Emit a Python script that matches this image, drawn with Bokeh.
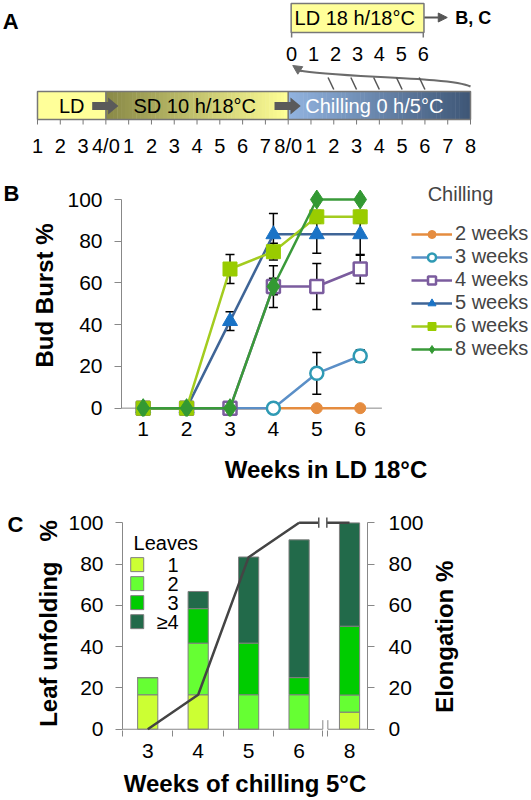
import numpy as np
from bokeh.plotting import figure
from bokeh.models import (Range1d, FixedTicker, ColumnDataSource, Whisker, TeeHead,
                          Legend, LegendItem, LinearAxis, Arrow, NormalHead)
from bokeh.embed import file_html
from bokeh.resources import INLINE
from bokeh.core.properties import value

FONT = "Liberation Sans"

# ---------------- Panel A data (experimental design) ----------------
timeline_labels = ["1", "2", "3", "4/0", "1", "2", "3", "4", "5", "6", "7", "8/0",
                   "1", "2", "3", "4", "5", "6", "7", "8"]
phase_labels = ["LD", "SD 10 h/18°C", "Chilling  0 h/5°C"]
phase_bounds = [0, 3, 11, 19]
ld18_weeks = [0, 1, 2, 3, 4, 5, 6]
ld18_label = "LD  18 h/18°C"
transfer_chill_weeks = [2, 3, 4, 5, 6]

# ---------------- Panel B data (bud burst) ----------------
weeks_in_ld = [1, 2, 3, 4, 5, 6]
chilling_groups = ["2 weeks", "3 weeks", "4 weeks", "5 weeks", "6 weeks", "8 weeks"]
bud_burst_2w = [0, 0, 0, 0, 0, 0]
bud_burst_3w = [0, 0, 0, 0, 16.7, 25]
bud_burst_4w = [0, 0, 0, 58.3, 58.3, 66.7]
bud_burst_5w = [0, 0, 41.7, 83.3, 83.3, 83.3]
bud_burst_6w = [0, 0, 66.7, 75, 91.7, 91.7]
bud_burst_8w = [0, 0, 0, 58.3, 100, 100]
err_2w = [0, 0, 0, 0, 0, 0]
err_3w = [0, 0, 0, 0, 10, 3]
err_4w = [0, 0, 0, 4, 11, 7]
err_5w = [0, 0, 4.5, 10, 9, 10]
err_6w = [0, 0, 7, 4, 3, 3]
err_8w = [0, 0, 0, 10, 0, 0]

# ---------------- Panel C data (leaf unfolding / elongation) ----------------
chill_weeks = ["3", "4", "5", "6", "8"]
leaves_1 = [16.7, 16.7, 0, 0, 8.3]
leaves_2 = [8.3, 25, 16.7, 16.7, 8.3]
leaves_3 = [0, 16.7, 25, 8.3, 33.3]
leaves_4 = [0, 8.3, 41.7, 66.7, 50]
elongation = [0, 16.7, 83.3, 100, 100]
leaf_classes = ["1", "2", "3", "≥4"]

GRAY = "#888888"
PCT_TICKS = [0, 20, 40, 60, 80, 100]


def lerp_colors(c0, c1, n):
    t = (np.arange(n) + 0.5) / n
    out = []
    for tt in t:
        r, g, b = [int(round(a + (bb - a) * tt)) for a, bb in zip(c0, c1)]
        out.append("#%02x%02x%02x" % (r, g, b))
    return out


def letter_axis(text, ypos, size, standoff, angle=None, y_range_name="default"):
    ax = LinearAxis(ticker=FixedTicker(ticks=[ypos]), major_label_overrides={ypos: text},
                    axis_line_color=None, major_tick_line_color=None,
                    minor_tick_line_color=None, major_label_standoff=standoff,
                    major_label_text_font=FONT, major_label_text_font_size=size,
                    major_label_text_font_style="bold", major_label_text_color="black",
                    y_range_name=y_range_name)
    if angle is not None:
        ax.major_label_orientation = angle
    return ax


# ====================== Panel A ======================
pA = figure(width=531, height=160, x_range=Range1d(-1.6235, 21.676), y_range=Range1d(160, 0),
            x_axis_location=None, y_axis_location=None, min_border=0,
            output_backend="svg", toolbar_location=None)
pA.xgrid.visible = False
pA.ygrid.visible = False
pA.outline_line_color = None

BT, BB = 91, 119
pA.quad(left=[phase_bounds[0]], right=[phase_bounds[1]], top=BT, bottom=BB,
        fill_color="#ffff99", line_color=None)
for (x0, x1, c0, c1) in [(phase_bounds[1], phase_bounds[2], (136, 136, 70), (255, 255, 150)),
                         (phase_bounds[2], phase_bounds[3], (146, 180, 224), (62, 86, 118))]:
    n = 48
    edges = np.linspace(x0, x1, n + 1)
    pA.quad(left=edges[:-1], right=edges[1:] + 0.02, top=BT, bottom=BB,
            fill_color=lerp_colors(c0, c1, n), line_color=None)
pA.quad(left=[phase_bounds[0]], right=[phase_bounds[-1]], top=BT, bottom=BB,
        fill_color=None, line_color="#777777", line_width=1.5)
pA.segment(x0=phase_bounds[1:3], x1=phase_bounds[1:3], y0=BT, y1=BB,
           line_color="#777777", line_width=1.5)
axs, ays = [], []
for b in phase_bounds[1:3]:
    axs.append([b - 0.6, b + 0.1, b + 0.1, b + 0.55, b + 0.1, b + 0.1, b - 0.6])
    ays.append([101.5, 101.5, 97, 105.5, 114, 109.5, 109.5])
pA.patches(axs, ays, fill_color="#5a5a5a", line_color=None)
mids = [(phase_bounds[i] + phase_bounds[i + 1]) / 2 for i in range(3)]
pA.text(x=[mids[0], mids[1] - 0.1, mids[2] - 0.1], y=[105.5] * 3, text=phase_labels,
        text_color=["black", "black", "white"], text_font=value(FONT),
        text_font_size="20px", text_align="center", text_baseline="middle")
tpos = np.arange(len(timeline_labels))
pA.segment(x0=tpos, x1=tpos, y0=BB, y1=124, line_color="#777777", line_width=1)
pA.text(x=tpos, y=[145] * len(tpos), text=timeline_labels, text_font=value(FONT),
        text_font_size="20px", text_align="center", text_baseline="middle")

top_pos = [11.15 + 0.963 * w for w in ld18_weeks]
pA.quad(left=[top_pos[0] - 0.02], right=[top_pos[-1] + 0.03], top=3, bottom=32,
        fill_color="#ffff99", line_color="#777777", line_width=1.5)
pA.text(x=[(top_pos[0] + top_pos[-1]) / 2], y=[17.5], text=[ld18_label], text_font=value(FONT),
        text_font_size="20px", text_align="center", text_baseline="middle")
pA.segment(x0=[top_pos[0], top_pos[-1]], x1=[top_pos[0], top_pos[-1]], y0=32, y1=37,
           line_color="#777777", line_width=1.5)
pA.text(x=top_pos, y=[53] * len(top_pos), text=[str(w) for w in ld18_weeks],
        text_font=value(FONT), text_font_size="20px", text_align="center",
        text_baseline="middle")
pA.add_layout(Arrow(x_start=top_pos[-1] + 0.05, y_start=17, x_end=17.98, y_end=17,
                    line_color="#555555", line_width=2,
                    end=NormalHead(size=9, fill_color="#555555", line_color="#555555")))
pA.text(x=[18.33], y=[17.5], text=["B, C"], text_font=value(FONT), text_font_size="18px",
        text_font_style="bold", text_align="left", text_baseline="middle")
pA.bezier(x0=[phase_bounds[-1]], y0=[86], x1=[11.5], y1=[70], cx0=[18.1], cy0=[76],
          cx1=[12.9], cy1=[77], line_color="#6b6b6b", line_width=2)
pA.add_layout(Arrow(x_start=11.6, y_start=71, x_end=11.2, y_end=65,
                    line_color="#6b6b6b", line_width=2,
                    end=NormalHead(size=9, fill_color="#6b6b6b", line_color="#6b6b6b")))
hx = [phase_bounds[2] + w for w in transfer_chill_weeks]
pA.segment(x0=[h - 0.25 for h in hx], x1=hx, y0=77, y1=89, line_color="#555555", line_width=1.5)
pA.text(x=[-1.52], y=[21], text=["A"], text_font=value(FONT), text_font_size="22px",
        text_font_style="bold", text_align="left", text_baseline="alphabetic")

# ====================== Panel B ======================
pB = figure(frame_width=409, frame_height=242, min_border_left=121, min_border_right=0,
            min_border_top=14, min_border_bottom=74,
            x_range=Range1d(0.5, 0.5 + 409 / 43.4), y_range=Range1d(-4, 112),
            output_backend="svg", toolbar_location=None)
pB.xgrid.visible = False
pB.ygrid.visible = False
pB.outline_line_color = None

pB.segment(x0=[weeks_in_ld[0] - 0.5], x1=[weeks_in_ld[-1] + 0.5], y0=[0], y1=[0],
           line_color=GRAY, line_width=1)

series = [bud_burst_2w, bud_burst_3w, bud_burst_4w, bud_burst_5w, bud_burst_6w, bud_burst_8w]
errors = [err_2w, err_3w, err_4w, err_5w, err_6w, err_8w]
styles = [
    dict(line="#e58c3f", marker="circle", size=11, fill="#e58c3f", mline="#e58c3f", mw=1),
    dict(line="#5b8fc7", marker="circle", size=13, fill="white", mline="#2f9ab4", mw=2.5),
    dict(line="#7b5c9e", marker="square", size=13, fill="white", mline="#7b5c9e", mw=2.5),
    dict(line="#3f6597", marker="triangle", size=15, fill="#1a73c6", mline="#1a73c6", mw=1),
    dict(line="#a3cc1f", marker="square", size=14, fill="#99cc00", mline="#99cc00", mw=1),
    dict(line="#3a9a3a", marker="diamond", size=19, fill="#339933", mline="#339933", mw=1),
]
items = []
for name, vals, errs, st in zip(chilling_groups, series, errors, styles):
    src = ColumnDataSource(dict(x=weeks_in_ld, y=vals))
    xs = [w for w, e in zip(weeks_in_ld, errs) if e > 0]
    if xs:
        up = [v + e for v, e in zip(vals, errs) if e > 0]
        lo = [v - e for v, e in zip(vals, errs) if e > 0]
        wsrc = ColumnDataSource(dict(x=xs, upper=up, lower=lo))
        pB.add_layout(Whisker(source=wsrc, base="x", upper="upper", lower="lower",
                              line_color="black", line_width=1.5,
                              upper_head=TeeHead(size=9, line_color="black", line_width=1.5),
                              lower_head=TeeHead(size=9, line_color="black", line_width=1.5)))
    rl = pB.line("x", "y", source=src, line_color=st["line"], line_width=2.5)
    rs = pB.scatter("x", "y", source=src, marker=st["marker"], size=st["size"],
                    fill_color=st["fill"], line_color=st["mline"], line_width=st["mw"])
    items.append(LegendItem(label=name, renderers=[rl, rs]))

legB = Legend(items=items, location=(290, 56), orientation="vertical", glyph_width=41,
              glyph_height=20, label_height=20, spacing=0, padding=0, margin=0,
              border_line_color=None, background_fill_alpha=0, label_standoff=3,
              label_text_font=FONT, label_text_font_size="20px",
              title="\u00a0\u00a0\u00a0Chilling", title_text_font=FONT,
              title_text_font_size="20px", title_text_font_style="normal",
              title_standoff=16)
pB.add_layout(legB)

pB.xaxis.ticker = FixedTicker(ticks=weeks_in_ld)
pB.xaxis.axis_line_color = None
pB.xaxis.major_tick_out = 0
pB.xaxis.major_tick_in = 0
pB.xaxis.minor_tick_out = 0
pB.xaxis.minor_tick_in = 0
pB.xaxis.major_label_standoff = 5
pB.xaxis.axis_label = "Weeks in LD 18°C"
pB.xaxis.axis_label_standoff = 17

pB.yaxis.ticker = FixedTicker(ticks=PCT_TICKS)
pB.yaxis.bounds = (0, 100)
pB.yaxis.axis_line_color = GRAY
pB.yaxis.major_tick_line_color = GRAY
pB.yaxis.major_tick_out = 7
pB.yaxis.major_tick_in = 0
pB.yaxis.minor_tick_out = 0
pB.yaxis.minor_tick_in = 0
pB.yaxis.major_label_standoff = 12
pB.yaxis.axis_label = "Bud Burst %"
pB.yaxis.axis_label_standoff = 6

for ax in [pB.xaxis, pB.yaxis]:
    ax.major_label_text_font = FONT
    ax.major_label_text_font_size = "21px"
    ax.major_label_text_color = "black"
    ax.axis_label_text_font = FONT
    ax.axis_label_text_font_size = "24px"
    ax.axis_label_text_font_style = "bold"
    ax.axis_label_text_color = "black"

pB.add_layout(letter_axis("B", 103, "22px", 3), "left")

# ====================== Panel C ======================
xc = list(range(len(chill_weeks)))
BRK = (3.47, 3.57)
LBRK = (3.39, 3.55)
pC = figure(frame_width=245, frame_height=214, min_border_left=122, min_border_right=163,
            min_border_top=26, min_border_bottom=70,
            x_range=Range1d(-0.5, 4.356), y_range=Range1d(-0.6, 103),
            output_backend="svg", toolbar_location=None)
pC.xgrid.visible = False
pC.ygrid.visible = False
pC.outline_line_color = None
pC.extra_y_ranges = {"elong": Range1d(-0.6, 103)}

srcC = ColumnDataSource(dict(x=xc, l1=leaves_1, l2=leaves_2, l3=leaves_3, l4=leaves_4,
                             elong=elongation))
leaf_colors = ["#ccff33", "#66ff33", "#00cc00", "#226a4a"]
bars = pC.vbar_stack(["l1", "l2", "l3", "l4"], x="x", width=0.4, source=srcC,
                     fill_color=leaf_colors, line_color="#7f7f7f", line_width=1)

pC.segment(x0=[-0.5, BRK[1]], x1=[BRK[0], 4.356], y0=[0, 0], y1=[0, 0], line_color=GRAY,
           line_width=1)
pC.segment(x0=list(BRK), x1=list(BRK), y0=[0, 0], y1=[4.4, 4.4], line_color=GRAY,
           line_width=1)

pC.line(x=xc[:4], y=elongation[:4], line_color="#444444", line_width=2.5,
        y_range_name="elong")
pC.segment(x0=[xc[3], LBRK[1]], x1=[LBRK[0], xc[4]], y0=[elongation[3], elongation[4]],
           y1=[elongation[3], elongation[4]], line_color="#444444", line_width=2.5,
           y_range_name="elong")
pC.segment(x0=list(LBRK), x1=list(LBRK), y0=[elongation[3] - 2.5] * 2,
           y1=[elongation[3] + 2.5] * 2, line_color="#555555", line_width=1.5,
           y_range_name="elong")

# legend for the leaf classes (compact rows, as in the original)
LEG_X, LEG_TOP, LEG_DY = -0.208, 79.7, 9.2
leg_y = [LEG_TOP - i * LEG_DY for i in range(len(leaf_classes))]
pC.rect(x=[LEG_X] * len(leaf_classes), y=leg_y, width=13, height=14, width_units="screen",
        height_units="screen", fill_color=leaf_colors, line_color="#7f7f7f", line_width=1)
pC.text(x=[0.614] * len(leaf_classes), y=leg_y, text=leaf_classes, text_font=value(FONT),
        text_font_size="20px", text_align="right", text_baseline="middle")
pC.text(x=[-0.28], y=[LEG_TOP + 10.6], text=["Leaves"], text_font=value(FONT),
        text_font_size="20px", text_align="left", text_baseline="middle")

pC.xaxis.ticker = FixedTicker(ticks=xc, minor_ticks=[-0.5, 0.5, 1.5, 2.5, BRK[0], BRK[1]])
pC.xaxis.major_label_overrides = {i: w for i, w in zip(xc, chill_weeks)}
pC.xaxis.axis_line_color = None
pC.xaxis.major_tick_out = 0
pC.xaxis.major_tick_in = 0
pC.xaxis.minor_tick_out = 6
pC.xaxis.minor_tick_in = 0
pC.xaxis.minor_tick_line_color = GRAY
pC.xaxis.major_label_standoff = 7
pC.xaxis.axis_label = "Weeks of chilling 5°C"
pC.xaxis.axis_label_standoff = 9

pC.yaxis.ticker = FixedTicker(ticks=PCT_TICKS)
pC.yaxis.bounds = (0, 100)
pC.yaxis.major_label_standoff = 12
pC.yaxis.axis_label = "Leaf unfolding\u00a0\u00a0\u00a0%"
pC.yaxis.axis_label_standoff = 3

rax = LinearAxis(y_range_name="elong", ticker=FixedTicker(ticks=PCT_TICKS),
                 bounds=(0, 100), major_label_standoff=14)
pC.add_layout(rax, "right")

for ax in [pC.xaxis[0], pC.yaxis[0], rax]:
    ax.major_label_text_font = FONT
    ax.major_label_text_font_size = "21px"
    ax.major_label_text_color = "black"
    ax.axis_label_text_font = FONT
    ax.axis_label_text_font_size = "24px"
    ax.axis_label_text_font_style = "bold"
    ax.axis_label_text_color = "black"
for ax in [pC.yaxis[0], rax]:
    ax.axis_line_color = GRAY
    ax.major_tick_line_color = GRAY
    ax.major_tick_out = 7
    ax.major_tick_in = 0
    ax.minor_tick_out = 0
    ax.minor_tick_in = 0

pC.add_layout(letter_axis("C", 99, "22px", 3), "left")
pC.add_layout(letter_axis("Elongation %", 8, "24px", 12, angle=np.pi / 2,
                          y_range_name="elong"), "right")

open("out.html", "w").write(file_html([pA, pB, pC], INLINE))
